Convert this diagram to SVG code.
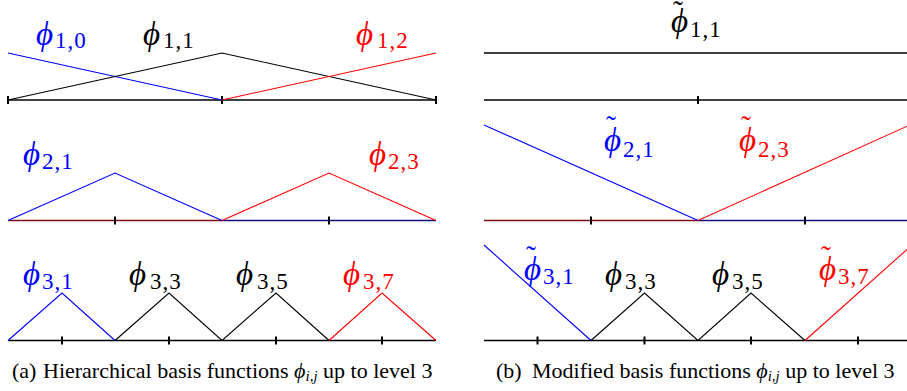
<svg xmlns="http://www.w3.org/2000/svg" width="907" height="391" viewBox="0 0 907 391">
<style>
.ln{fill:none;stroke-width:1.1;stroke-linejoin:miter}
.ax{fill:none;stroke:#000;stroke-width:1.3}
.tk{stroke:#000;stroke-width:2}
.b{stroke:#0000ff}
.r{stroke:#ff0000}
.k{stroke:#000}
.lab{font-family:"Liberation Serif","DejaVu Serif",serif;font-size:33px}
.ph{font-style:italic}
.sub{font-size:23px;font-style:normal;letter-spacing:1px}
.tl{font-size:30px;font-style:normal}
.fb{fill:#0000ff}.fr{fill:#ff0000}.fk{fill:#000}
.cap{font-family:"Liberation Serif","DejaVu Serif",serif;font-size:22px;fill:#000}
</style>
<rect width="907" height="391" fill="#fff"/>
<g id="connectors">
<line class="ax" x1="8" y1="100" x2="436" y2="100"/>
<line class="tk" x1="8" y1="96" x2="8" y2="104"/>
<line class="tk" x1="222" y1="96" x2="222" y2="104"/>
<line class="tk" x1="436" y1="96" x2="436" y2="104"/>
<polyline class="ln b" points="8,53 222,100"/>
<polyline class="ln k" points="8,100 222,53 436,100"/>
<polyline class="ln r" points="222,100 436,53"/>
<line class="ax" x1="8" y1="220.5" x2="222" y2="220.5" style="stroke:#7a1010"/>
<line class="ax" x1="222" y1="220.5" x2="436" y2="220.5" style="stroke:#10107a"/>
<line class="tk" x1="115" y1="216.5" x2="115" y2="224.5"/>
<line class="tk" x1="329" y1="216.5" x2="329" y2="224.5"/>
<polyline class="ln b" points="8,220.5 115,173 222,220.5"/>
<polyline class="ln r" points="222,220.5 329,173 436,220.5"/>
<line class="ax" x1="8" y1="340.5" x2="436" y2="340.5"/>
<line class="tk" x1="62" y1="336.5" x2="62" y2="344.5"/>
<line class="tk" x1="169" y1="336.5" x2="169" y2="344.5"/>
<line class="tk" x1="276" y1="336.5" x2="276" y2="344.5"/>
<line class="tk" x1="382" y1="336.5" x2="382" y2="344.5"/>
<polyline class="ln b" points="8,340.5 62,293 115,340.5"/>
<polyline class="ln k" points="115,340.5 169,293 222,340.5 276,293 329,340.5"/>
<polyline class="ln r" points="329,340.5 382,293 436,340.5"/>
<line class="ln k" x1="484" y1="53" x2="907" y2="53" style="stroke-width:1.3"/>
<line class="ax" x1="484" y1="100" x2="907" y2="100"/>
<line class="tk" x1="698" y1="96" x2="698" y2="104"/>
<line class="ax" x1="484" y1="220.5" x2="698" y2="220.5" style="stroke:#7a1010"/>
<line class="ax" x1="698" y1="220.5" x2="907" y2="220.5" style="stroke:#10107a"/>
<line class="tk" x1="591" y1="216.5" x2="591" y2="224.5"/>
<line class="tk" x1="805" y1="216.5" x2="805" y2="224.5"/>
<polyline class="ln b" points="484,125 698,220.5"/>
<polyline class="ln r" points="698,220.5 912,124"/>
<line class="ax" x1="484" y1="340.5" x2="907" y2="340.5"/>
<line class="tk" x1="537.5" y1="336.5" x2="537.5" y2="344.5"/>
<line class="tk" x1="644.5" y1="336.5" x2="644.5" y2="344.5"/>
<line class="tk" x1="751" y1="336.5" x2="751" y2="344.5"/>
<line class="tk" x1="858" y1="336.5" x2="858" y2="344.5"/>
<polyline class="ln b" points="484,245 591,340.5"/>
<polyline class="ln k" points="591,340.5 644.5,293 698,340.5 751,293 805,340.5"/>
<polyline class="ln r" points="805,340.5 912,245"/>
</g>
<g id="label-phi-1-0"><text class="lab fb"><tspan class="ph" x="36" y="45">ϕ</tspan><tspan class="sub" x="55" y="48">1,0</tspan></text></g>
<g id="label-phi-1-1"><text class="lab fk"><tspan class="ph" x="143" y="45">ϕ</tspan><tspan class="sub" x="163" y="48">1,1</tspan></text></g>
<g id="label-phi-1-2"><text class="lab fr"><tspan class="ph" x="356" y="45">ϕ</tspan><tspan class="sub" x="377" y="48">1,2</tspan></text></g>
<g id="label-phi-2-1"><text class="lab fb"><tspan class="ph" x="23" y="165">ϕ</tspan><tspan class="sub" x="42" y="169">2,1</tspan></text></g>
<g id="label-phi-2-3"><text class="lab fr"><tspan class="ph" x="369" y="165">ϕ</tspan><tspan class="sub" x="388" y="169">2,3</tspan></text></g>
<g id="label-phi-3-1"><text class="lab fb"><tspan class="ph" x="23" y="285">ϕ</tspan><tspan class="sub" x="42" y="289">3,1</tspan></text></g>
<g id="label-phi-3-3"><text class="lab fk"><tspan class="ph" x="129" y="285">ϕ</tspan><tspan class="sub" x="150" y="289">3,3</tspan></text></g>
<g id="label-phi-3-5"><text class="lab fk"><tspan class="ph" x="236" y="285">ϕ</tspan><tspan class="sub" x="257" y="289">3,5</tspan></text></g>
<g id="label-phi-3-7"><text class="lab fr"><tspan class="ph" x="343" y="285">ϕ</tspan><tspan class="sub" x="363" y="289">3,7</tspan></text></g>
<g id="label-tphi-1-1"><text class="lab fk"><tspan class="tl" x="673" y="21">˜</tspan><tspan class="ph" x="671" y="32">ϕ</tspan><tspan class="sub" x="690" y="36.5">1,1</tspan></text></g>
<g id="label-tphi-2-1"><text class="lab fb"><tspan class="tl" x="606" y="136">˜</tspan><tspan class="ph" x="604" y="151">ϕ</tspan><tspan class="sub" x="623" y="156.5">2,1</tspan></text></g>
<g id="label-tphi-2-3"><text class="lab fr"><tspan class="tl" x="741" y="136">˜</tspan><tspan class="ph" x="739" y="151">ϕ</tspan><tspan class="sub" x="758" y="156.5">2,3</tspan></text></g>
<g id="label-tphi-3-1"><text class="lab fb"><tspan class="tl" x="526" y="266">˜</tspan><tspan class="ph" x="524" y="280">ϕ</tspan><tspan class="sub" x="543" y="284">3,1</tspan></text></g>
<g id="label-phi-3-3b"><text class="lab fk"><tspan class="ph" x="605" y="285">ϕ</tspan><tspan class="sub" x="625" y="289">3,3</tspan></text></g>
<g id="label-phi-3-5b"><text class="lab fk"><tspan class="ph" x="712" y="285">ϕ</tspan><tspan class="sub" x="732" y="289">3,5</tspan></text></g>
<g id="label-tphi-3-7"><text class="lab fr"><tspan class="tl" x="821" y="266">˜</tspan><tspan class="ph" x="819" y="280">ϕ</tspan><tspan class="sub" x="838" y="284">3,7</tspan></text></g>
<g id="caption-a"><text class="cap" x="12" y="378">(a)</text><text class="cap" x="43" y="378">Hierarchical basis functions <tspan font-style="italic">ϕ</tspan><tspan font-size="15" font-style="italic" dy="3">i,j</tspan><tspan dy="-3"> up to level 3</tspan></text></g>
<g id="caption-b"><text class="cap" x="496" y="378">(b)</text><text class="cap" x="532" y="378">Modified basis functions <tspan font-style="italic">ϕ</tspan><tspan font-size="15" font-style="italic" dy="3">i,j</tspan><tspan dy="-3"> up to level 3</tspan></text></g>
</svg>
